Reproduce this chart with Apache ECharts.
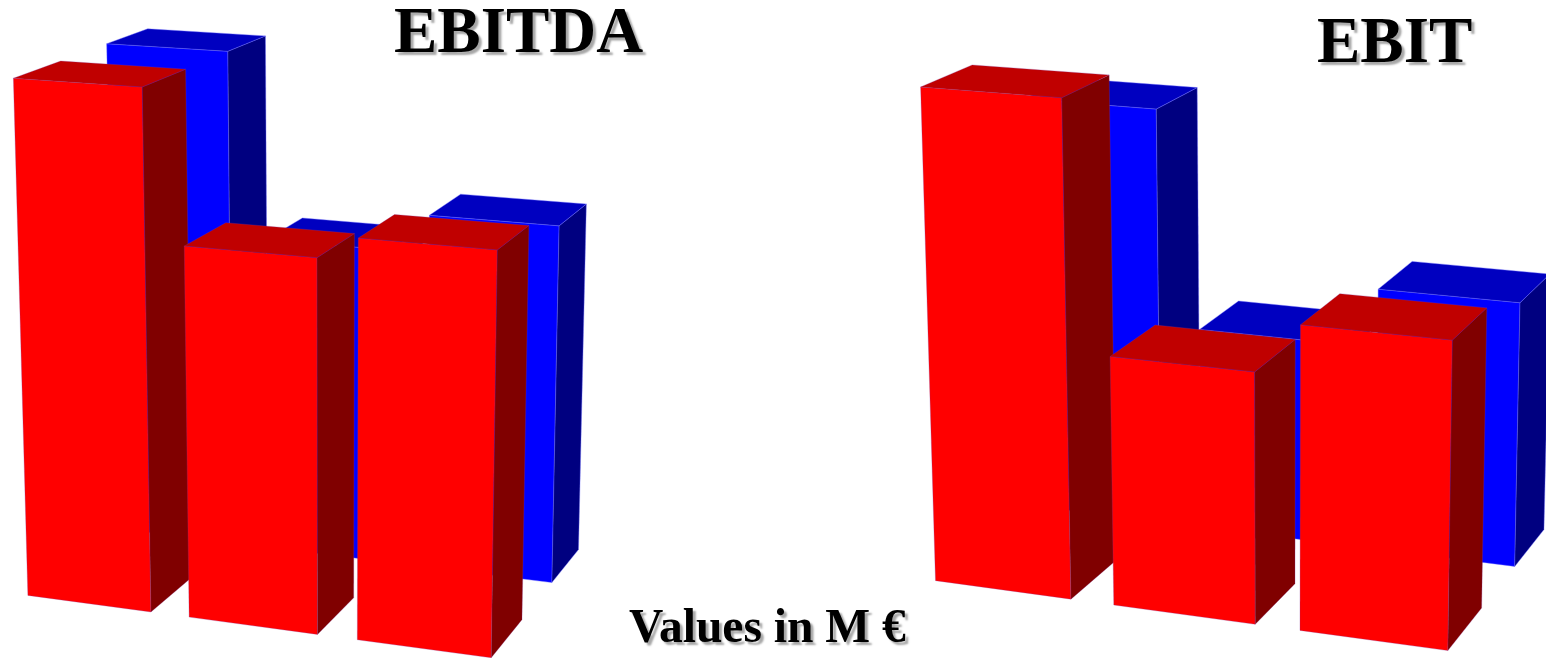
<!DOCTYPE html>
<html><head><meta charset="utf-8">
<style>html,body{margin:0;background:#fff}#chart{width:1546px;height:658px}</style>
<script src="https://cdn.jsdelivr.net/npm/echarts@6/dist/echarts.min.js"></script>
</head><body><div id="chart"></div>
<script>
// Bar values, one array per panel and year-series, in the order they stand on the floor
const ebitdaRed = [100, 71.34, 75.55];
const ebitdaBlue = [100.11, 63.47, 70.94];
const ebitRed = [100, 50.39, 60.46];
const ebitBlue = [88.39, 42.88, 55.07];

const panelTitles = ['EBITDA', 'EBIT'];
const footnote = 'Values in M €';

// Pinhole cameras: world (bar position, value, depth) to the scene plane
const ebitdaCamera = {
  matrix: [
    [120.727, -0.151015, 47.258, 27.8688],
    [6.97481, -5.20732, -14.2948, 595.4],
    [-1.5683e-2, -4.5576e-4, 3.4971e-2, 1]
  ],
  barGap: 0.303942,
  rowStart: 2.04599
};
const ebitCamera = {
  matrix: [
    [118.067, -0.527172, 83.2851, 935.504],
    [8.76315, -4.97285, -18.8629, 580.661],
    [-1.6235e-2, -4.1086e-4, 3.4766e-2, 1]
  ],
  barGap: 0.309483,
  rowStart: 2.0551
};

// Front, side and top shades per row
const rowShades = [
  { front: '#ff0000', side: '#800000', top: '#c00000', edge: 'rgba(140,50,150,0.55)' },
  { front: '#0000ff', side: '#000080', top: '#0000c0', edge: 'rgba(110,110,255,0.8)' }
];

function project(m, x, y, z) {
  const w = m[2][0] * x + m[2][1] * y + m[2][2] * z + m[2][3];
  return [
    (m[0][0] * x + m[0][1] * y + m[0][2] * z + m[0][3]) / w,
    (m[1][0] * x + m[1][1] * y + m[1][2] * z + m[1][3]) / w
  ];
}

// One custom series per panel: back row first, each row left to right
function panelSeries(camera, red, blue) {
  const data = [];
  blue.forEach((v, i) => data.push([i, v, 1]));
  red.forEach((v, i) => data.push([i, v, 0]));
  return {
    type: 'custom',
    coordinateSystem: 'cartesian2d',
    clip: false,
    data,
    renderItem(params, api) {
      const bar = api.value(0), value = api.value(1), row = api.value(2);
      const x0 = bar * (1 + camera.barGap), x1 = x0 + 1;
      const z0 = row ? camera.rowStart : 0, z1 = z0 + 1;
      const shade = rowShades[row];
      const pt = (x, y, z) => api.coord(project(camera.matrix, x, y, z));
      const face = (points, fill) => ({
        type: 'polygon',
        shape: { points },
        style: { fill, stroke: shade.edge, lineWidth: 0.5 }
      });
      return {
        type: 'group',
        children: [
          face([pt(x0, value, z0), pt(x1, value, z0), pt(x1, 0, z0), pt(x0, 0, z0)], shade.front),
          face([pt(x1, value, z0), pt(x1, value, z1), pt(x1, 0, z1), pt(x1, 0, z0)], shade.side),
          face([pt(x0, value, z0), pt(x1, value, z0), pt(x1, value, z1), pt(x0, value, z1)], shade.top)
        ]
      };
    }
  };
}

function heading(text, left, top, fontSize) {
  return {
    text, left, top, padding: 0,
    textStyle: {
      fontFamily: '"Liberation Serif"', fontWeight: 'bold', fontSize, color: '#000',
      textShadowColor: 'rgba(0,0,0,0.35)', textShadowBlur: 2,
      textShadowOffsetX: 3, textShadowOffsetY: 3
    }
  };
}

const chart = echarts.init(document.getElementById('chart'));
chart.setOption({
  animation: false,
  title: [
    heading(panelTitles[0], 394, 3, 65),
    heading(panelTitles[1], 1317, 13, 65),
    heading(footnote, 629, 606, 47.5)
  ],
  grid: { left: 0, right: 0, top: 0, bottom: 0 },
  xAxis: { type: 'value', min: 0, max: 1546, show: false },
  yAxis: { type: 'value', min: 0, max: 658, inverse: true, show: false },
  series: [panelSeries(ebitdaCamera, ebitdaRed, ebitdaBlue), panelSeries(ebitCamera, ebitRed, ebitBlue)]
});
</script></body></html>
